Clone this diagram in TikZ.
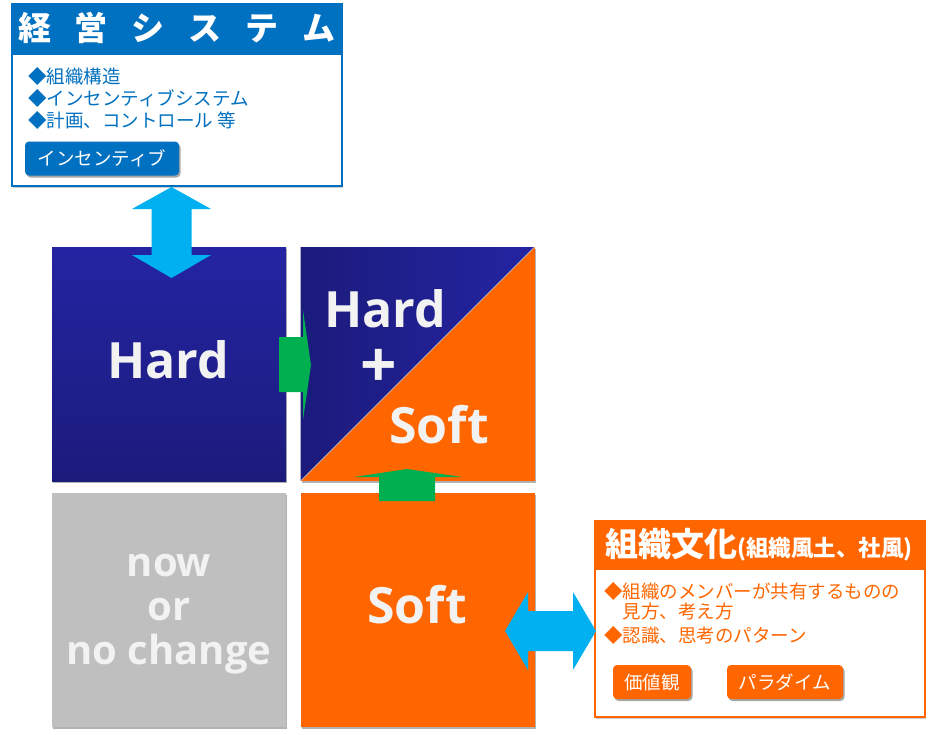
\documentclass[tikz,border=0pt]{standalone}
\usepackage{fontspec}
\setmainfont{Noto Sans CJK JP}
\newfontfamily\osans{Open Sans}
\usetikzlibrary{shadows}
\definecolor{hblue}{HTML}{2424A2}
\definecolor{hbluedark}{HTML}{1B1B7C}
\definecolor{sorange}{HTML}{FF6600}
\definecolor{ngray}{HTML}{BFBFBF}
\definecolor{tblue}{HTML}{0070C0}
\definecolor{cyanarrow}{HTML}{00B0F0}
\definecolor{garrow}{HTML}{00B050}
\definecolor{wtext}{HTML}{F2F2F2}
\begin{document}
\begin{tikzpicture}[x=1pt,y=-1pt,
  sq/.style={minimum width=234pt,minimum height=234pt,inner sep=0pt,outer sep=0pt,
    drop shadow={shadow xshift=1pt,shadow yshift=-1.5pt,opacity=0.3,fill=black}},
  bigtxt/.style={text=wtext,inner sep=0pt,font=\osans\bfseries\fontsize{50}{50}\selectfont},
  btn/.style={rounded corners=4pt,text=white,minimum height=34pt,inner sep=0pt,
    font=\fontsize{18.5}{20}\selectfont,
    drop shadow={shadow xshift=1.5pt,shadow yshift=-2pt,opacity=0.35,fill=black}},
  bullet/.style={anchor=west,inner sep=0pt,font=\fontsize{18.5}{22}\selectfont},
  card/.style={fill=white,line width=2.5pt,inner sep=0pt,minimum width=330pt,
    drop shadow={shadow xshift=1pt,shadow yshift=-1.5pt,opacity=0.2,fill=black}},
  blockarrow/.style={fill=cyanarrow},
  greenarrow/.style={fill=garrow}]
\useasboundingbox (0,0) rectangle (932,734);

% squares
\node[sq,top color=hblue,bottom color=hbluedark] (hard) at (169,364) {};
\node[sq,fill=sorange] (hs) at (417.5,364) {};
\shade[left color=hbluedark,right color=hblue] (hs.north west) -- (hs.north east) -- (hs.south west) -- cycle;
\draw[white!75!gray,line width=0.6pt] (hs.south west) -- (hs.north east);
\node[sq,fill=ngray] (now) at (169,610) {};
\node[sq,fill=sorange] (soft) at (417.5,610) {};

% texts in squares
\node[bigtxt] (hardtxt) at (168,360) {Hard};
\node[bigtxt] (hstxt1) at (385,309) {Hard};
\node[bigtxt,font=\osans\bfseries\fontsize{64}{64}\selectfont] (hsplus) at (379,368) {+};
\node[bigtxt] (hstxt2) at (439,425) {Soft};
\node[bigtxt] (softtxt) at (417,605) {Soft};
\node[bigtxt,align=center,font=\osans\bfseries\fontsize{40}{44}\selectfont] (nowtxt) at (169,614) {now\\or\\no change};

% green arrows
\fill[greenarrow] (279,337) -- (303,337) -- (303,310) -- (311,365) -- (303,420) -- (303,392) -- (279,392) -- cycle;
\fill[greenarrow] (379,501) -- (379,477) -- (354,477) -- (407,469) -- (462,477) -- (435,477) -- (435,501) -- cycle;

% management system card
\node[card,draw=tblue,minimum height=182pt] (mgmt) at (177,95) {};
\fill[tblue] (mgmt.north west) rectangle (342,55);
\node[text=white,inner sep=0pt,font=\bfseries\fontsize{33}{33}\selectfont] (mgmttitle) at (177,28)
  {経\hspace{24pt}営\hspace{24pt}シ\hspace{24pt}ス\hspace{24pt}テ\hspace{24pt}ム};
\node[bullet,text=tblue] (m1) at (28,76) {◆組織構造};
\node[bullet,text=tblue] (m2) at (28,98) {◆インセンティブシステム};
\node[bullet,text=tblue] (m3) at (28,120.5) {◆計画、コントロール 等};
\node[btn,fill=tblue,minimum width=154pt] (incent) at (102,158.5) {インセンティブ};

% culture card
\node[card,draw=sorange,minimum height=196pt] (culture) at (760,619) {};
\fill[sorange] (culture.north west) rectangle (925,570);
\node[text=white,inner sep=0pt] (culttitle) at (759,545)
  {\bfseries\fontsize{33}{33}\selectfont 組織文化\fontsize{22.5}{22.5}\selectfont (組織風土、社風)};
\node[bullet,text=sorange] (c1) at (604,591) {◆組織のメンバーが共有するものの};
\node[bullet,text=sorange] (c2) at (622.5,611) {見方、考え方};
\node[bullet,text=sorange] (c3) at (604,635.5) {◆認識、思考のパターン};
\node[btn,fill=sorange,minimum width=78pt] (values) at (652,682) {価値観};
\node[btn,fill=sorange,minimum width=116pt] (paradigm) at (785,682) {パラダイム};

% blue double arrows
\fill[blockarrow] (171.5,187) -- (211,209) -- (191.5,209) -- (191.5,255) -- (211,255) -- (171.5,278)
  -- (132,255) -- (151.5,255) -- (151.5,209) -- (132,209) -- cycle;
\fill[blockarrow] (505,631) -- (528,592) -- (528,611) -- (573,611) -- (573,592) -- (596,631)
  -- (573,670) -- (573,651) -- (528,651) -- (528,670) -- cycle;
\end{tikzpicture}
\end{document}
